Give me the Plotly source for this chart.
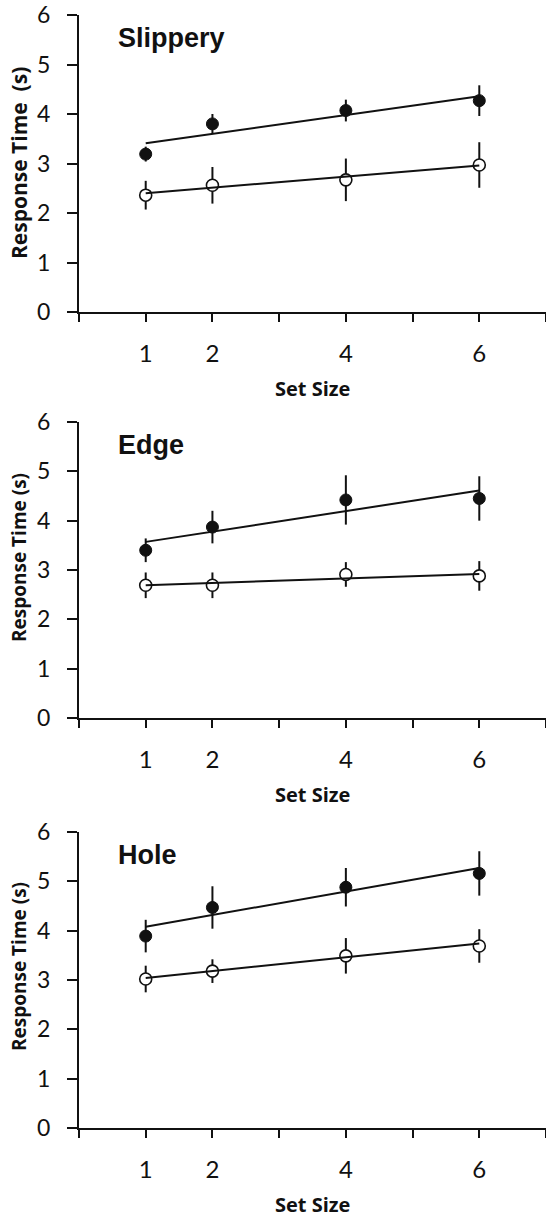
import plotly.graph_objects as go

# ---------------- data ----------------
set_sizes = [1, 2, 4, 6]
panel_names = ["Slippery", "Edge", "Hole"]
y_titles = ["Response Time  (s)", "Response Time (s)", "Response Time (s)"]

filled_mean = [
    [3.19, 3.80, 4.07, 4.27],
    [3.40, 3.87, 4.42, 4.45],
    [3.89, 4.47, 4.88, 5.16],
]
filled_err = [
    [0.15, 0.20, 0.22, 0.31],
    [0.24, 0.33, 0.50, 0.45],
    [0.33, 0.43, 0.39, 0.45],
]
open_mean = [
    [2.36, 2.56, 2.67, 2.97],
    [2.69, 2.69, 2.91, 2.88],
    [3.02, 3.18, 3.49, 3.69],
]
open_err = [
    [0.29, 0.37, 0.43, 0.46],
    [0.26, 0.26, 0.25, 0.30],
    [0.27, 0.24, 0.36, 0.34],
]
# fitted line endpoints (at set size 1 and 6)
fit_x = [1, 6]
filled_fit = [
    [3.41, 4.36],
    [3.57, 4.61],
    [4.08, 5.27],
]
open_fit = [
    [2.40, 2.96],
    [2.69, 2.92],
    [3.04, 3.74],
]
x_tickvals = [0, 1, 2, 3, 4, 5, 6, 7]
x_ticktext = ["", "1", "2", "", "4", "", "6", ""]
y_tickvals = [0, 1, 2, 3, 4, 5, 6]

# ---------------- layout geometry (pixels) ----------------
W, H = 546, 1217
axis_left_px = 79
panel_top_px = [15, 422, 832]      # y = 6
panel_bot_px = [312, 718, 1128]    # y = 0
ytitle_center_px = [163, 558, 967]
ytitle_size = [21, 19, 19]

def py(px):
    return 1 - px / H

fig = go.Figure()
INK = "#111111"

for i in range(3):
    xa = "x" if i == 0 else f"x{i+1}"
    ya = "y" if i == 0 else f"y{i+1}"
    # filled series
    fig.add_trace(go.Scatter(
        x=set_sizes, y=filled_mean[i], mode="markers", xaxis=xa, yaxis=ya,
        marker=dict(size=12, color=INK, line=dict(color=INK, width=1)),
        error_y=dict(type="data", array=filled_err[i], visible=True,
                     color=INK, thickness=2, width=0),
        showlegend=False, hoverinfo="skip"))
    # open series
    fig.add_trace(go.Scatter(
        x=set_sizes, y=open_mean[i], mode="markers", xaxis=xa, yaxis=ya,
        marker=dict(size=12, color="white", line=dict(color=INK, width=1.6)),
        error_y=dict(type="data", array=open_err[i], visible=True,
                     color=INK, thickness=2, width=0),
        showlegend=False, hoverinfo="skip"))
    # fit lines
    for fit in (filled_fit[i], open_fit[i]):
        fig.add_trace(go.Scatter(
            x=fit_x, y=fit, mode="lines", xaxis=xa, yaxis=ya,
            line=dict(color=INK, width=2), showlegend=False, hoverinfo="skip"))

    ydom = [py(panel_bot_px[i]), py(panel_top_px[i])]
    xkey = "xaxis" if i == 0 else f"xaxis{i+1}"
    ykey = "yaxis" if i == 0 else f"yaxis{i+1}"
    fig.update_layout(**{
        xkey: dict(domain=[axis_left_px / W, 1], range=[0, 7], anchor=ya,
                   automargin=False, ticklabeloverflow="allow",
                   showgrid=False, zeroline=False, showline=True,
                   linecolor=INK, linewidth=2,
                   ticks="outside", ticklen=8, tickwidth=2, tickcolor=INK,
                   tickvals=x_tickvals, ticktext=x_ticktext,
                   ticklabelstandoff=11,
                   tickfont=dict(family="Lato", size=24, color=INK)),
        ykey: dict(domain=ydom, range=[0, 6], anchor=xa,
                   automargin=False, ticklabeloverflow="allow",
                   showgrid=False, zeroline=False, showline=True,
                   linecolor=INK, linewidth=2,
                   ticks="outside", ticklen=10, tickwidth=2, tickcolor=INK,
                   tickvals=y_tickvals, ticklabelstandoff=12,
                   tickfont=dict(family="Lato", size=23, color=INK)),
    })
    # panel title
    fig.add_annotation(text="<b>%s</b>" % panel_names[i], xref=xa, yref=ya,
                       x=0.55, y=5.53, xanchor="left", yanchor="middle",
                       showarrow=False,
                       font=dict(family="Liberation Sans", size=27, color=INK))
    # x axis title
    fig.add_annotation(text="<b>Set Size</b>", xref=xa, yref="paper",
                       x=3.5, y=py(panel_bot_px[i] + 76), xanchor="center",
                       yanchor="middle", showarrow=False,
                       font=dict(family="Open Sans", size=20, color=INK))
    # y axis title
    fig.add_annotation(text="<b>%s</b>" % y_titles[i], xref="paper", yref="paper",
                       x=19 / W, y=py(ytitle_center_px[i]), xanchor="center",
                       yanchor="middle", textangle=-90, showarrow=False,
                       font=dict(family="Open Sans", size=ytitle_size[i], color=INK))

fig.update_layout(width=W, height=H, margin=dict(l=0, r=0, t=0, b=0),
                  paper_bgcolor="white", plot_bgcolor="white")

fig.write_html("out.html",
               config={"displayModeBar": False},
               post_script="document.body.style.margin='0';"
                           "document.body.style.overflow='hidden';")
